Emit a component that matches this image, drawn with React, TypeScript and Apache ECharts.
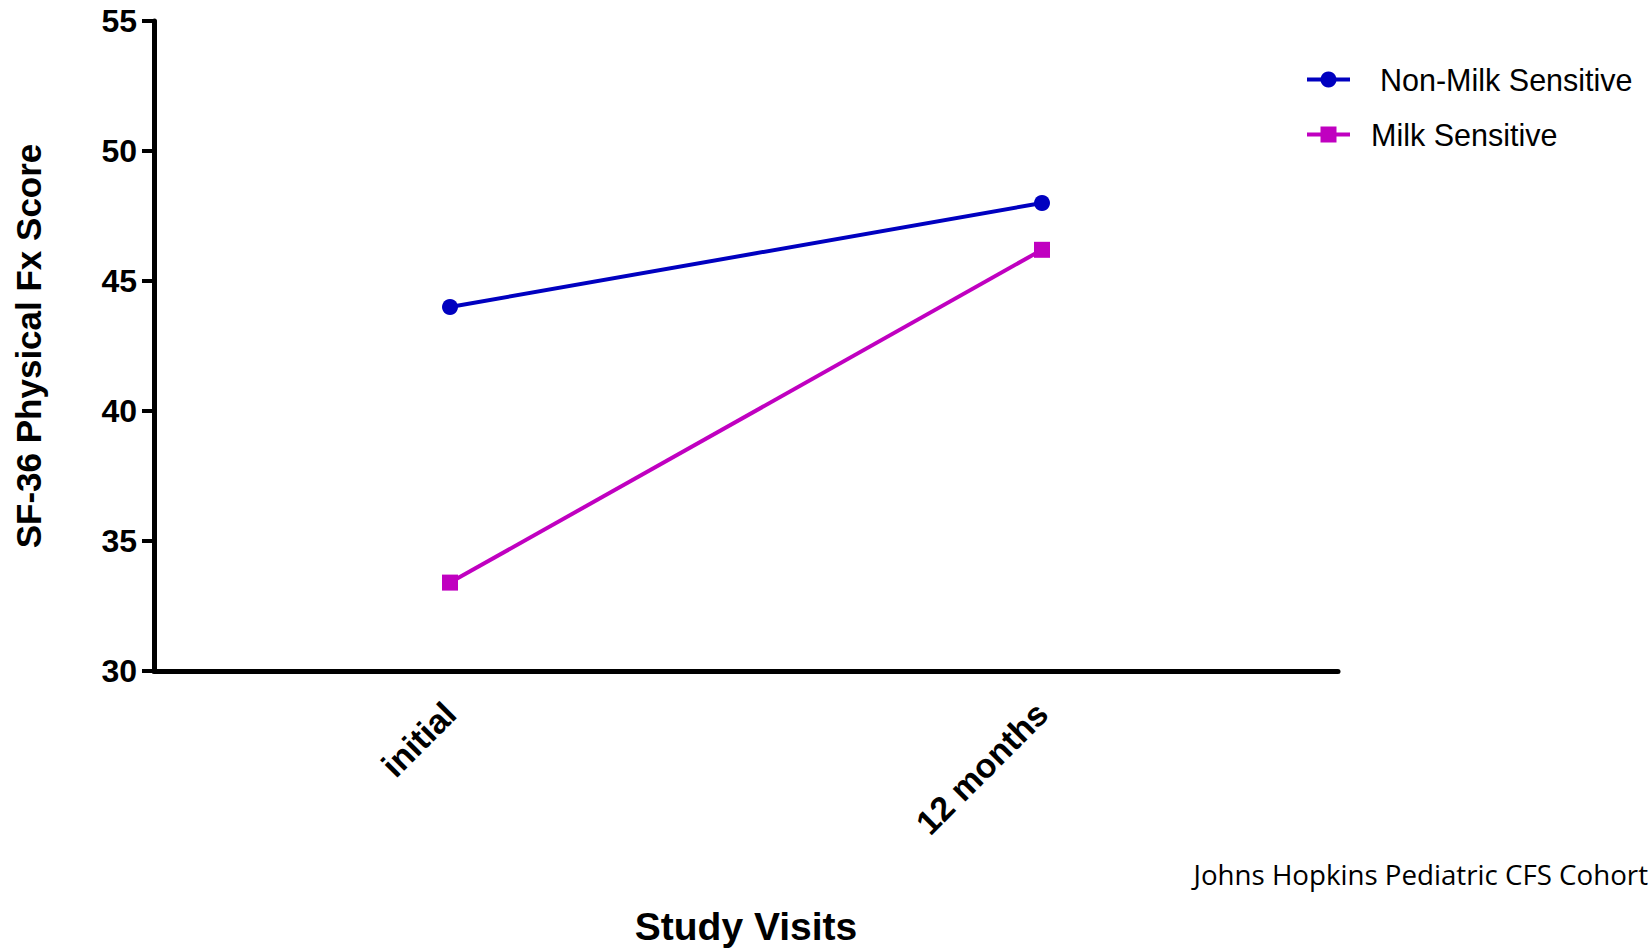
import React, { useEffect, useRef } from "react";
import * as echarts from "echarts";

const categories = ["initial", "12 months"];
const nonMilkSensitive = [44.0, 48.0];
const milkSensitive = [33.4, 46.2];
const yTicks = { min: 30, max: 55, interval: 5 };
const seriesNames = ["Non-Milk Sensitive", "Milk Sensitive"];
const footnote = "Johns Hopkins Pediatric CFS Cohort";

const BLUE = "#0000C0";
const MAGENTA = "#C000C0";
const ARIAL = "'Liberation Sans', Arial, sans-serif";

export default function App() {
  const ref = useRef<HTMLDivElement>(null);
  useEffect(() => {
    document.body.style.margin = "0";
    const chart = echarts.init(ref.current!, null, { renderer: "svg" });
    const legendText = (pad: number) => ({
      fontFamily: ARIAL,
      fontSize: 30.5,
      color: "#000",
      lineHeight: 30,
      padding: [0, 0, 0, pad],
    });
    const legendBase = {
      left: 1305,
      padding: 0,
      itemWidth: 43,
      itemHeight: 20,
      lineStyle: { width: 4 },
    };
    chart.setOption({
      animation: false,
      backgroundColor: "#fff",
      grid: { left: 154, right: 312, top: 21, bottom: 279, containLabel: false },
      xAxis: {
        type: "category",
        data: categories,
        boundaryGap: true,
        name: "Study Visits",
        nameLocation: "middle",
        nameGap: 236,
        nameTextStyle: { fontFamily: ARIAL, fontWeight: "bold", fontSize: 39, color: "#000" },
        axisLine: { lineStyle: { color: "#000", width: 5 } },
        axisTick: { alignWithLabel: true, length: 12, lineStyle: { color: "#000", width: 4 } },
        axisLabel: {
          rotate: 45,
          margin: 37,
          fontFamily: ARIAL,
          fontWeight: "bold",
          fontSize: 34,
          color: "#000",
        },
        splitLine: { show: false },
      },
      yAxis: {
        type: "value",
        min: yTicks.min,
        max: yTicks.max,
        interval: yTicks.interval,
        name: "SF-36 Physical Fx Score",
        nameLocation: "middle",
        nameRotate: 90,
        nameGap: 108,
        nameTextStyle: { fontFamily: ARIAL, fontWeight: "bold", fontSize: 35, color: "#000" },
        axisLine: { show: true, lineStyle: { color: "#000", width: 5 } },
        axisTick: { show: true, length: 12, lineStyle: { color: "#000", width: 4 } },
        axisLabel: { margin: 17, fontFamily: ARIAL, fontWeight: "bold", fontSize: 32, color: "#000" },
        splitLine: { show: false },
      },
      legend: [
        { ...legendBase, data: [seriesNames[0]], top: 64, textStyle: legendText(25) },
        { ...legendBase, data: [seriesNames[1]], top: 119, textStyle: legendText(16) },
      ],
      graphic: [
        {
          type: "text",
          right: 2,
          top: 860,
          style: {
            text: footnote,
            font: "27.7px 'Open Sans', sans-serif",
            fill: "#000",
          },
        },
      ],
      series: [
        {
          name: seriesNames[0],
          type: "line",
          data: nonMilkSensitive,
          symbol: "circle",
          symbolSize: 16,
          itemStyle: { color: BLUE },
          lineStyle: { color: BLUE, width: 4 },
        },
        {
          name: seriesNames[1],
          type: "line",
          data: milkSensitive,
          symbol: "rect",
          symbolSize: 16,
          itemStyle: { color: MAGENTA },
          lineStyle: { color: MAGENTA, width: 4 },
        },
      ],
    });
    return () => chart.dispose();
  }, []);
  return <div ref={ref} style={{ width: 1650, height: 951 }} />;
}
